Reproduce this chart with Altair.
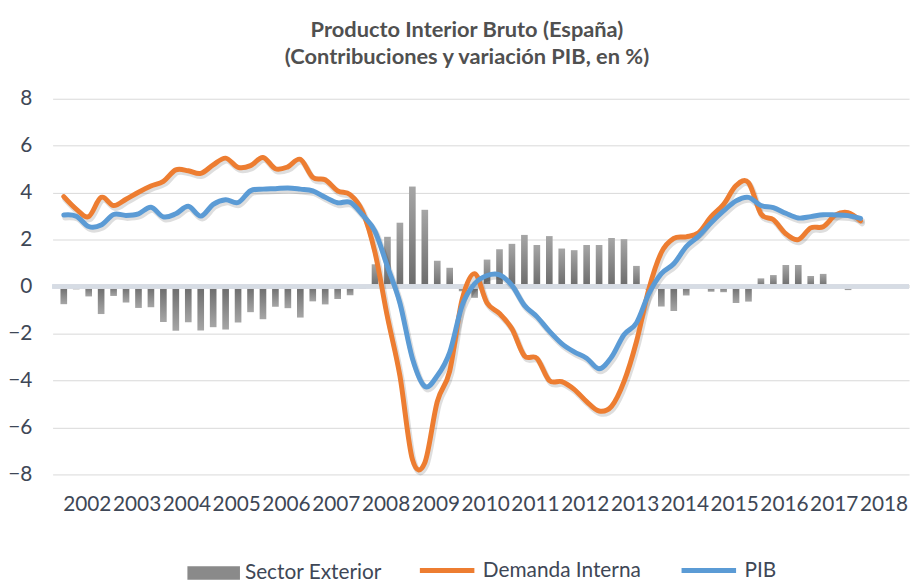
import altair as alt
import pandas as pd

# Quarterly data 2002-T1 .. 2018-T1 (axis spans 2002..2018, 4 quarters each)
years = list(range(2002, 2019))
quarters = ["T1", "T2", "T3", "T4"]
trimestres = [f"{y}-{q}" for y in years for q in quarters][:65]

sector_exterior = [
    -0.75, -0.12, -0.42, -1.17, -0.40, -0.68, -0.91, -0.88, -1.51, -1.88,
    -1.52, -1.87, -1.73, -1.83, -1.53, -1.09, -1.39, -0.86, -0.92, -1.32,
    -0.63, -0.76, -0.53, -0.37, -0.10, 0.95, 2.12, 2.72, 4.26, 3.27,
    1.10, 0.80, -0.20, -0.48, 1.15, 1.59, 1.82, 2.20, 1.77, 2.15,
    1.62, 1.55, 1.77, 1.77, 2.07, 2.02, 0.88, -0.15, -0.85, -1.04,
    -0.38, 0.00, -0.22, -0.24, -0.70, -0.64, 0.35, 0.49, 0.92, 0.92,
    0.45, 0.54, 0.00, -0.15, 0.08,
]
demanda_interna = [
    3.83, 3.30, 2.98, 3.80, 3.45, 3.72, 4.02, 4.28, 4.48, 4.97,
    4.93, 4.82, 5.18, 5.47, 5.08, 5.15, 5.50, 5.02, 5.10, 5.42,
    4.65, 4.55, 4.08, 3.92, 3.20, 1.45, -1.30, -3.80, -7.35, -7.50,
    -4.90, -3.60, -0.55, 0.55, -0.70, -1.15, -1.80, -2.95, -3.05, -4.00,
    -4.05, -4.38, -4.90, -5.30, -5.10, -4.05, -2.35, -0.10, 1.45, 2.05,
    2.12, 2.30, 2.98, 3.50, 4.30, 4.43, 3.10, 2.85, 2.25, 2.00,
    2.50, 2.55, 3.05, 3.15, 2.80,
]
pib = [
    3.05, 3.00, 2.56, 2.62, 3.07, 3.03, 3.10, 3.38, 2.97, 3.10,
    3.42, 3.00, 3.50, 3.70, 3.58, 4.08, 4.15, 4.17, 4.20, 4.15,
    4.08, 3.80, 3.57, 3.59, 3.05, 2.35, 0.85, -0.70, -3.05, -4.25,
    -3.80, -2.80, -0.80, 0.12, 0.47, 0.50, 0.05, -0.80, -1.28, -1.90,
    -2.43, -2.78, -3.05, -3.50, -3.00, -2.05, -1.55, -0.30, 0.55, 0.97,
    1.70, 2.15, 2.72, 3.22, 3.65, 3.80, 3.45, 3.36, 3.12, 2.92,
    2.98, 3.06, 3.05, 3.02, 2.90,
]
y_ticks = [-8, -6, -4, -2, 0, 2, 4, 6, 8]

df = pd.DataFrame({
    "q": list(range(len(trimestres))),
    "trimestre": trimestres,
    "Sector Exterior": sector_exterior,
    "Demanda Interna": demanda_interna,
    "PIB": pib,
})

FONT = "Lato"
TXT = "#3E4756"
tick_vals = [4 * k + 1.85 for k in range(len(years))]

x_enc = alt.X(
    "q:Q",
    scale=alt.Scale(domain=[-0.5, 4 * len(years) - 0.5], nice=False, zero=False),
    axis=alt.Axis(
        values=tick_vals,
        labelExpr="'' + (2002 + floor(datum.value / 4))",
        title=None, grid=False, domain=False, ticks=False, tickSize=0,
        labelFont=FONT, labelFontSize=21, labelColor=TXT,
        labelPadding=19, labelOverlap=False, labelFlush=False,
    ),
)
y_scale = alt.Scale(domain=[-8, 8], nice=False, zero=False)
y_axis = alt.Axis(
    values=y_ticks, title=None, domain=False, ticks=False, tickSize=0,
    grid=True, gridColor="#D9D9D9", gridWidth=1,
    labelFont=FONT, labelFontSize=21, labelColor=TXT, labelPadding=21,
)

base = alt.Chart(df)

grad_pos = alt.Gradient(
    gradient="linear",
    stops=[alt.GradientStop(color="#A6A6A6", offset=0),
           alt.GradientStop(color="#6B6B6B", offset=1)],
    x1=0, x2=0, y1=0, y2=1,
)
grad_neg = alt.Gradient(
    gradient="linear",
    stops=[alt.GradientStop(color="#6B6B6B", offset=0),
           alt.GradientStop(color="#A6A6A6", offset=1)],
    x1=0, x2=0, y1=0, y2=1,
)

bars_pos = base.transform_filter("datum['Sector Exterior'] >= 0").mark_bar(
    size=6.7, fill=grad_pos
).encode(x=x_enc, y=alt.Y("Sector Exterior:Q", scale=y_scale, axis=y_axis))

bars_neg = base.transform_filter("datum['Sector Exterior'] < 0").mark_bar(
    size=6.7, fill=grad_neg
).encode(x=x_enc, y=alt.Y("Sector Exterior:Q", scale=y_scale, axis=y_axis))

bar_legend = base.transform_calculate(serie_b="'Sector Exterior'").transform_filter(
    "false"
).mark_bar().encode(
    x=x_enc,
    y=alt.Y("Sector Exterior:Q", scale=y_scale, axis=y_axis),
    color=alt.Color(
        "serie_b:N",
        scale=alt.Scale(domain=["Sector Exterior"], range=["#8A8A8A"]),
        title=None,
        legend=alt.Legend(
            orient="none", legendX=136, legendY=452, direction="horizontal",
            symbolType="M-1,-0.26H1V0.26H-1Z", symbolSize=2809,
            symbolStrokeWidth=0, padding=0, labelOffset=5,
            labelFont=FONT, labelFontSize=21, labelColor=TXT,
        ),
    ),
)

zero_rule = base.mark_rule(color="#D6DCE4", strokeWidth=3.5).encode(
    y=alt.Y(datum=0, scale=y_scale, axis=y_axis)
)

lines_base = base.transform_fold(["Demanda Interna", "PIB"], as_=["serie", "valor"])

shadow = lines_base.mark_line(
    interpolate="cardinal", tension=0, strokeWidth=6, color="#000000",
    opacity=0.13, xOffset=1.5, yOffset=2.5, strokeCap="round", strokeJoin="round",
).encode(
    x=x_enc, y=alt.Y("valor:Q", scale=y_scale, axis=y_axis), detail="serie:N"
)

lines = lines_base.mark_line(
    interpolate="cardinal", tension=0, strokeWidth=5, strokeCap="round",
    strokeJoin="round",
).encode(
    x=x_enc,
    y=alt.Y("valor:Q", scale=y_scale, axis=y_axis),
    color=alt.Color(
        "serie:N",
        scale=alt.Scale(domain=["Demanda Interna", "PIB"],
                        range=["#ED7D31", "#5B9BD5"]),
        title=None,
        legend=alt.Legend(
            orient="none", legendX=368, legendY=446, direction="horizontal",
            symbolType="stroke", symbolSize=3025, symbolStrokeWidth=5,
            padding=0, labelOffset=6, columnPadding=30,
            labelFont=FONT, labelFontSize=21, labelColor=TXT,
        ),
    ),
)

chart = alt.layer(
    bars_pos, bars_neg, bar_legend, zero_rule, shadow, lines
).resolve_scale(color="independent").properties(
    width=864,
    height=379,
    autosize=alt.AutoSizeParams(type="none"),
    padding={"left": 45, "top": 89, "right": 5, "bottom": 106},
    background="#FFFFFF",
    title=alt.TitleParams(
        text=["Producto Interior Bruto (España)",
              "(Contribuciones y variación PIB, en %)"],
        font=FONT, fontSize=22, fontWeight="bold", color="#505050",
        anchor="middle", frame="group", lineHeight=27, offset=19, dx=-14,
    ),
).configure_view(stroke="transparent")

chart.save("out.html", embed_options={"renderer": "svg", "actions": False})
